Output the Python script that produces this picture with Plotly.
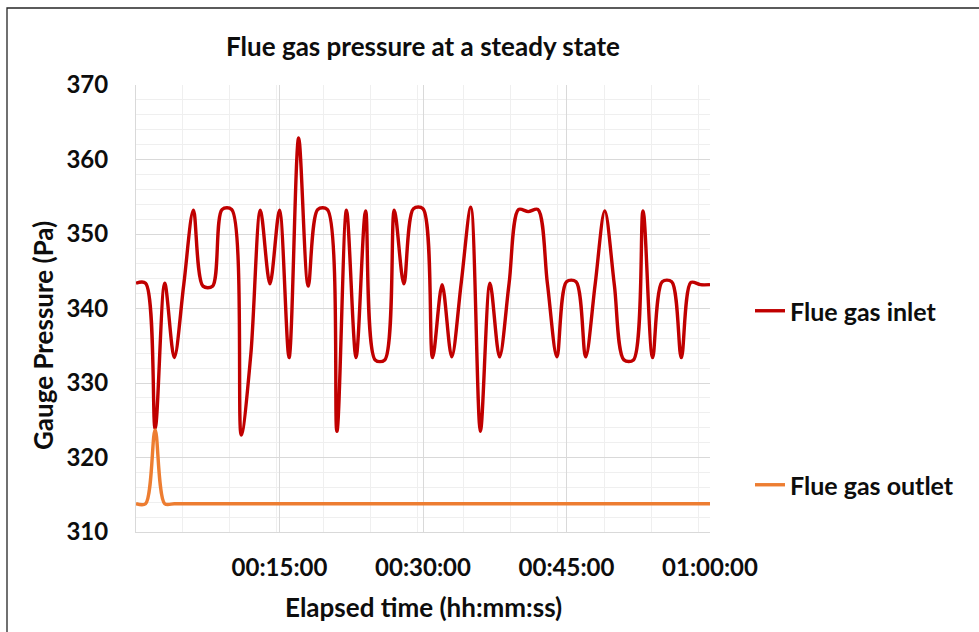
import plotly.graph_objects as go

# Elapsed time in minutes
minutes = [0, 1, 2, 3, 4, 5, 6, 7, 8, 9, 10, 11, 12, 13, 14, 15, 16, 17, 18, 19, 20,
           21, 22, 23, 24, 25, 26, 27, 28, 29, 30, 31, 32, 33, 34, 35, 36, 37, 38, 39, 40,
           41, 42, 43, 44, 45, 46, 47, 48, 49, 50, 51, 52, 53, 54, 55, 56, 57, 58, 59, 60]

inlet = [343.4, 343.4, 323.9, 343.4, 333.4, 343.3, 353.2, 343.0, 343.0, 353.3, 353.3,
         323.0, 333.8, 353.2, 343.3, 353.2, 333.4, 362.9, 343.0, 353.3, 353.3,
         323.5, 353.2, 333.4, 353.1, 333.1, 333.1, 353.2, 343.3, 353.4, 353.4,
         333.4, 343.2, 333.5, 343.5, 353.6, 323.5, 343.4, 333.5, 343.4, 353.3,
         353.0, 353.3, 343.4, 333.5, 343.6, 343.6, 333.5, 343.3, 353.1, 343.2,
         333.1, 333.1, 353.1, 333.4, 343.6, 343.6, 333.4, 343.5, 343.2, 343.2]

outlet = [313.8, 313.8, 323.7, 313.8, 313.8, 313.8, 313.8, 313.8, 313.8, 313.8, 313.8,
          313.8, 313.8, 313.8, 313.8, 313.8, 313.8, 313.8, 313.8, 313.8, 313.8,
          313.8, 313.8, 313.8, 313.8, 313.8, 313.8, 313.8, 313.8, 313.8, 313.8,
          313.8, 313.8, 313.8, 313.8, 313.8, 313.8, 313.8, 313.8, 313.8, 313.8,
          313.8, 313.8, 313.8, 313.8, 313.8, 313.8, 313.8, 313.8, 313.8, 313.8,
          313.8, 313.8, 313.8, 313.8, 313.8, 313.8, 313.8, 313.8, 313.8, 313.8]

x_tick_vals = [15, 30, 45, 60]
x_tick_text = ["00:15:00", "00:30:00", "00:45:00", "01:00:00"]

FONT = "Lato, 'Open Sans', sans-serif"
TXT = "#0d0d0d"

fig = go.Figure()
fig.add_trace(go.Scatter(
    x=minutes, y=inlet, mode="lines", name="Flue gas inlet",
    line=dict(color="#C00000", width=3.4, shape="spline", smoothing=0.9),
    legend="legend", showlegend=True))
fig.add_trace(go.Scatter(
    x=minutes, y=outlet, mode="lines", name="Flue gas outlet",
    line=dict(color="#ED7D31", width=3.4, shape="spline", smoothing=0.9),
    legend="legend2", showlegend=True))

grid_major = "#d9d9d9"
grid_minor = "#efefef"

fig.update_layout(
    width=979, height=632,
    showlegend=True,
    margin=dict(l=136, r=269, t=85, b=100),
    paper_bgcolor="white", plot_bgcolor="white",
    font=dict(family=FONT, color=TXT, size=22, weight="bold"),
    title=dict(text="Flue gas pressure at a steady state",
               x=0.5, xref="paper", xanchor="center",
               y=1 - 47 / 632, yref="container", yanchor="middle",
               font=dict(family=FONT, size=26, color=TXT, weight="bold")),
    xaxis=dict(
        range=[0, 60], tickmode="array", tickvals=x_tick_vals, ticktext=x_tick_text,
        showgrid=True, gridcolor=grid_major, gridwidth=1,
        showline=True, linecolor=grid_major, linewidth=1, mirror=False,
        zeroline=False, ticks="", ticklabelstandoff=14,
        tickfont=dict(family=FONT, size=24, color=TXT, weight="bold"),
        minor=dict(tickmode="linear", tick0=0, dtick=4.896, showgrid=True,
                   gridcolor=grid_minor, gridwidth=1),
    ),
    yaxis=dict(
        range=[310, 370], tickmode="linear", tick0=310, dtick=10,
        showgrid=True, gridcolor=grid_major, gridwidth=1,
        showline=True, linecolor=grid_major, linewidth=1,
        zeroline=False, ticks="", ticklabelstandoff=22,
        tickfont=dict(family=FONT, size=24, color=TXT, weight="bold"),
        minor=dict(tickmode="linear", tick0=310, dtick=2, showgrid=True,
                   gridcolor=grid_minor, gridwidth=1),
    ),
    legend=dict(x=(750 - 136) / 574, xanchor="left", y=(532 - 311) / 447, yanchor="middle",
                bgcolor="rgba(0,0,0,0)", borderwidth=0,
                font=dict(family=FONT, size=25, color=TXT, weight="bold")),
    legend2=dict(x=(750 - 136) / 574, xanchor="left", y=(532 - 485) / 447, yanchor="middle",
                 bgcolor="rgba(0,0,0,0)", borderwidth=0,
                 font=dict(family=FONT, size=25, color=TXT, weight="bold")),
    annotations=[
        dict(text="Elapsed time (hh:mm:ss)", xref="paper", yref="paper",
             x=0.5, y=(532 - 607) / 447, xanchor="center", yanchor="middle",
             showarrow=False, font=dict(family=FONT, size=26, color=TXT, weight="bold")),
        dict(text="Gauge Pressure (Pa)", xref="paper", yref="paper",
             x=(43 - 136) / 574, y=(532 - 336) / 447, xanchor="center", yanchor="middle",
             textangle=-90, showarrow=False,
             font=dict(family=FONT, size=26, color=TXT, weight="bold")),
    ],
    shapes=[
        dict(type="rect", xref="paper", yref="paper",
             x0=(7 - 136) / 574, x1=(995 - 136) / 574,
             y0=(532 - 650) / 447, y1=(532 - 8) / 447,
             line=dict(color="#262626", width=1.3), fillcolor="rgba(0,0,0,0)",
             layer="above"),
    ],
)

fig.write_html("out.html", config={"displayModeBar": False},
               post_script="document.body.style.margin='0';")
